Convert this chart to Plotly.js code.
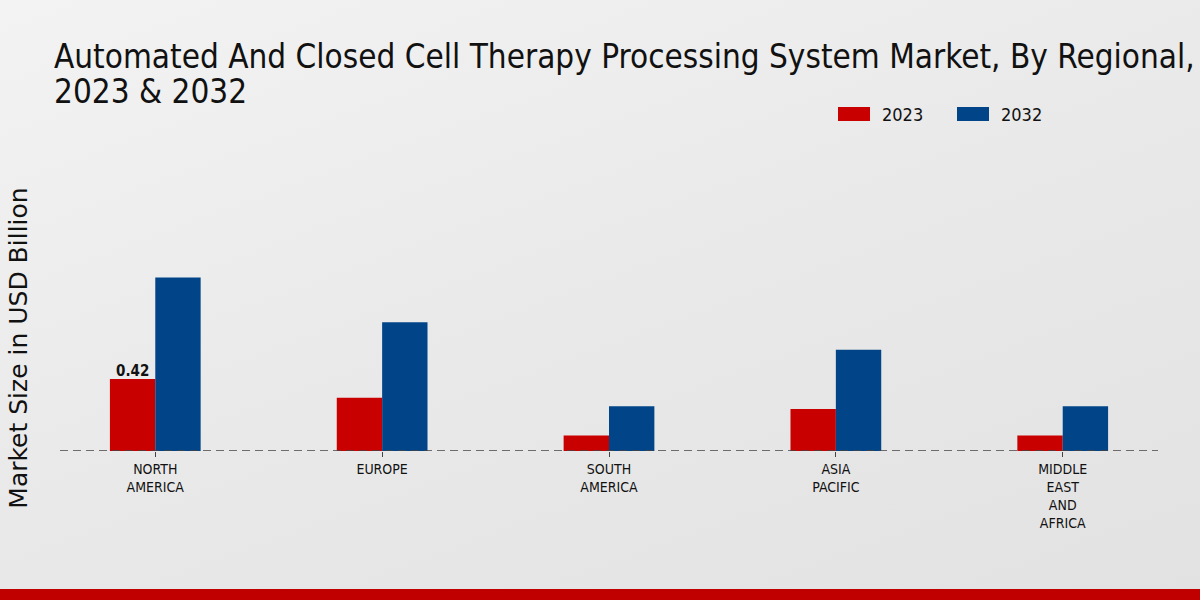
<!DOCTYPE html>
<html>
<head>
<meta charset="utf-8">
<script src="https://cdn.plot.ly/plotly-3.0.1.min.js"></script>
<style>
html,body{margin:0;padding:0;}
body{width:1200px;height:600px;overflow:hidden;background:linear-gradient(160deg,#f3f3f3 0%,#e9e9e9 50%,#e2e2e2 100%);position:relative;}
#chart{width:1200px;height:600px;position:absolute;left:0;top:0;}
#band{position:absolute;left:0;top:589px;width:1200px;height:11px;background:#c00000;}
</style>
</head>
<body>
<div id="chart"></div>
<div id="band"></div>
<script>
const categories = ["NORTH<br>AMERICA", "EUROPE", "SOUTH<br>AMERICA", "ASIA<br>PACIFIC", "MIDDLE<br>EAST<br>AND<br>AFRICA"];
const values2023 = [0.42, 0.31, 0.09, 0.245, 0.09];
const values2032 = [1.01, 0.75, 0.26, 0.59, 0.26];
const seriesNames = ["2023", "2032"];
const seriesColors = ["#c80000", "#014588"];
const titleLines = ["Automated And Closed Cell Therapy Processing System Market, By Regional,", "2023 & 2032"];
const labelText = "0.42";

const FONT = "DejaVu Sans Condensed, DejaVu Sans, sans-serif";
const idx = categories.map((_, i) => i);

// plot-area geometry (pixels) used for placing decorations
const L = 60, R = 1158, T = 245, B = 451;
const px = x => (x - L) / (R - L);
const py = y => (B - y) / (B - T);

const traces = [
  {type: "bar", x: idx, y: values2023, name: seriesNames[0], marker: {color: seriesColors[0]}, hoverinfo: "skip"},
  {type: "bar", x: idx, y: values2032, name: seriesNames[1], marker: {color: seriesColors[1]}, hoverinfo: "skip"}
];

const legendRects = [[838, 870], [957, 989]];
const legendShapes = legendRects.map((r, i) => ({
  type: "rect", xref: "paper", yref: "paper",
  x0: px(r[0]), x1: px(r[1]), y0: py(121), y1: py(107),
  fillcolor: seriesColors[i], line: {width: 0}
}));
const legendLabels = legendRects.map((r, i) => ({
  xref: "paper", yref: "paper", x: px(r[1] + 10), y: py(114),
  xanchor: "left", yanchor: "middle", showarrow: false,
  text: seriesNames[i], font: {family: FONT, size: 18, color: "#111"}
}));
const titleAnns = titleLines.map((t, i) => ({
  xref: "paper", yref: "paper", x: px(52), y: py(56 + 35 * i),
  xanchor: "left", yanchor: "middle", showarrow: false,
  text: t, font: {family: FONT, size: 33, color: "#111"}
}));

const layout = {
  width: 1200, height: 600,
  paper_bgcolor: "rgba(0,0,0,0)", plot_bgcolor: "rgba(0,0,0,0)",
  margin: {l: L, r: 1200 - R, t: T, b: 600 - B, pad: 0},
  barmode: "group", bargap: 0.6, bargroupgap: 0,
  font: {family: FONT, color: "#111"},
  showlegend: false,
  xaxis: {
    range: [-0.42, 4.42], tickmode: "array", tickvals: idx, ticktext: categories,
    showgrid: false, zeroline: false, showline: false,
    ticks: "outside", ticklen: 5, tickcolor: "#444",
    tickfont: {family: FONT, size: 14, color: "#111"}, fixedrange: true
  },
  yaxis: {
    range: [0, 1.2], showgrid: false, zeroline: false, showline: false, showticklabels: false,
    title: {text: "Market Size in USD Billion", font: {family: "DejaVu Sans, sans-serif", size: 25, color: "#111"}, standoff: 24},
    fixedrange: true
  },
  shapes: [{
    type: "line", xref: "paper", yref: "y", x0: 0, x1: 1, y0: 0, y1: 0,
    line: {color: "#444", width: 1.3, dash: "8px,5px"}
  }].concat(legendShapes),
  annotations: [{
    x: -0.1, y: values2023[0], xref: "x", yref: "y", text: "<b>" + labelText + "</b>",
    showarrow: false, yanchor: "bottom", yshift: -3, font: {family: FONT, size: 15, color: "#111"}
  }].concat(legendLabels, titleAnns)
};

Plotly.newPlot("chart", traces, layout, {displayModeBar: false, staticPlot: true});
</script>
</body>
</html>
